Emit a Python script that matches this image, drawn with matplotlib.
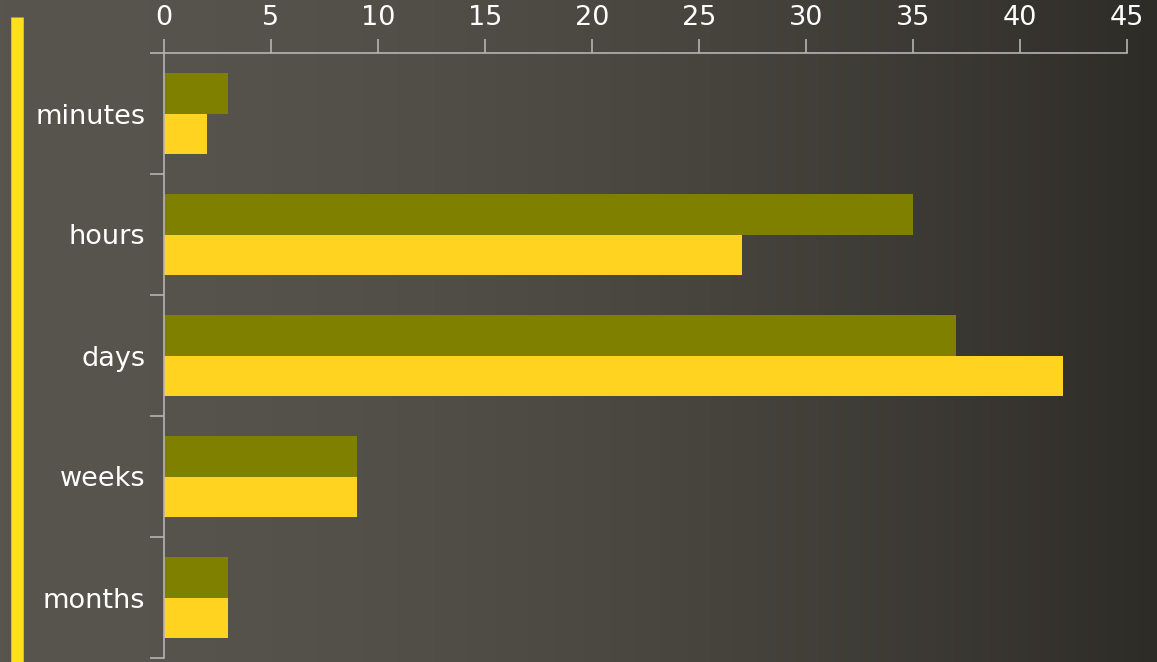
import numpy as np
import matplotlib
matplotlib.use('Agg')
import matplotlib.pyplot as plt
from matplotlib.lines import Line2D

# Data
categories = ['minutes', 'hours', 'days', 'weeks', 'months']
series_a = [3, 35, 37, 9, 3]   # olive
series_b = [2, 27, 42, 9, 3]   # yellow
xticks = [0, 5, 10, 15, 20, 25, 30, 35, 40, 45]

fig = plt.figure(figsize=(11.57, 6.62), dpi=100)

# dark textured-ish background, lighter on the left
grad = np.linspace(0, 1, 256)
left = np.array([88, 85, 78]) / 255.0
right = np.array([46, 44, 39]) / 255.0
bg = left[None, :] * (1 - grad[:, None] ** 1.8) + right[None, :] * grad[:, None] ** 1.8
bg_ax = fig.add_axes([0, 0, 1, 1], zorder=-10)
bg_ax.imshow(bg[None, :, :], aspect='auto', extent=[0, 1, 0, 1])
bg_ax.axis('off')

# yellow marker stroke on the left
fig.add_artist(Line2D([0.0145, 0.0145], [0.0, 0.975], transform=fig.transFigure,
                      color='#FFE01A', linewidth=9, solid_capstyle='butt'))

ax = fig.add_axes([164 / 1157, 4 / 662, (1127 - 164) / 1157, (658 - 53) / 662])
ax.patch.set_alpha(0)

y = np.arange(len(categories))
h = 0.335
ax.barh(y - h / 2, series_a, height=h, color='#808000')
ax.barh(y + h / 2, series_b, height=h, color='#FFD320')

ax.set_xlim(0, 45)
ax.set_ylim(len(categories) - 0.5, -0.5)
ax.xaxis.tick_top()
ax.set_xticks(xticks)
ax.set_yticks(y)
ax.set_yticklabels(categories)
ax.set_yticks(np.arange(-0.5, len(categories)), minor=True)

for s in ['right', 'bottom']:
    ax.spines[s].set_visible(False)
for s in ['left', 'top']:
    ax.spines[s].set_color('#b4b4b4')
    ax.spines[s].set_linewidth(1.2)

ax.tick_params(axis='x', colors='#b4b4b4', labelcolor='white', labelsize=19.5,
               length=10, width=1.2, pad=6)
ax.tick_params(axis='y', which='major', length=0, labelcolor='white',
               labelsize=19.5, pad=13.5)
ax.tick_params(axis='y', which='minor', length=10, width=1.2, colors='#b4b4b4')

fig.savefig('out.png', dpi=100)
